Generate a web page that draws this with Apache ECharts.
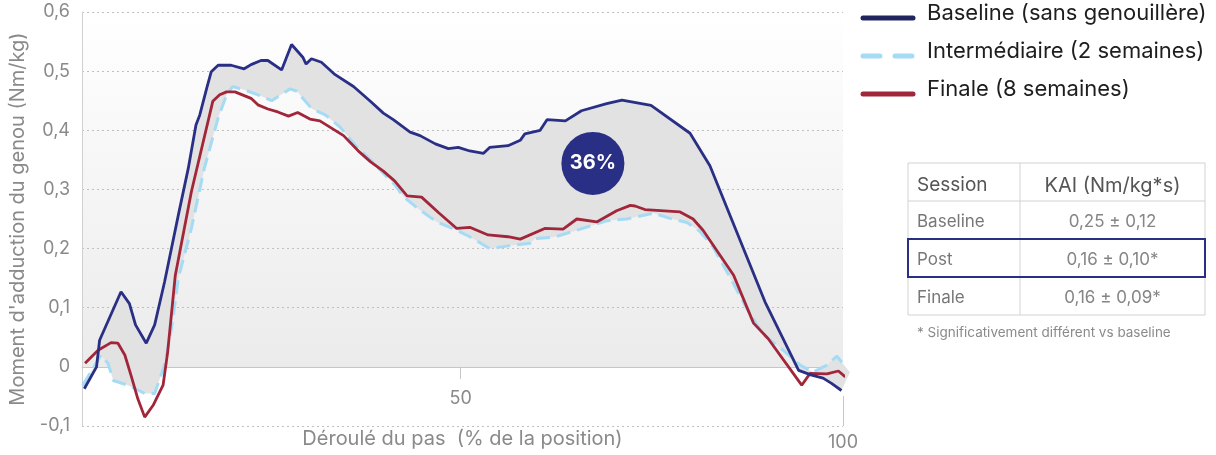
<!DOCTYPE html>
<html>
<head>
<meta charset="utf-8">
<script src="https://cdn.jsdelivr.net/npm/echarts@6/dist/echarts.min.js"></script>
<style>
  html, body { margin: 0; padding: 0; background: #fff; }
  #chart { width: 1216px; height: 455px; }
</style>
</head>
<body>
<div id="chart"></div>
<script>
// values: [% of stance, knee adduction moment Nm/kg]
const baseline = [
  [0.8, -0.037], [2.4, 0.000], [2.8, 0.045], [5.6, 0.127], [6.7, 0.107], [7.5, 0.071],
  [8.9, 0.040], [10.0, 0.071], [11.3, 0.144], [13.1, 0.257], [14.4, 0.336], [15.4, 0.409],
  [15.9, 0.426], [16.8, 0.471], [17.4, 0.499], [18.3, 0.510], [20.0, 0.510], [21.7, 0.504],
  [22.6, 0.511], [23.9, 0.518], [24.8, 0.518], [26.6, 0.502], [27.9, 0.545], [29.4, 0.523],
  [29.8, 0.512], [30.5, 0.521], [31.8, 0.515], [33.6, 0.494], [36.0, 0.474], [38.2, 0.449],
  [39.9, 0.429], [41.2, 0.418], [43.4, 0.397], [44.7, 0.391], [46.7, 0.377], [48.4, 0.369],
  [49.7, 0.371], [51.2, 0.365], [53.0, 0.361], [53.8, 0.371], [56.2, 0.374], [57.8, 0.383],
  [58.4, 0.394], [60.4, 0.400], [61.3, 0.418], [63.7, 0.416], [65.8, 0.433], [69.1, 0.445],
  [71.1, 0.451], [74.9, 0.442], [80.0, 0.395], [82.6, 0.340], [89.8, 0.110], [94.2, -0.006],
  [95.9, -0.014], [97.4, -0.019], [98.5, -0.028], [99.8, -0.040]
];
const intermediate = [
  [0.6, -0.031], [3.0, 0.020], [3.9, 0.006], [4.6, -0.023], [6.5, -0.031], [8.7, -0.045],
  [10.0, -0.045], [11.3, 0.003], [12.2, 0.065], [13.1, 0.150], [14.8, 0.234], [16.5, 0.336],
  [18.3, 0.421], [19.4, 0.460], [20.2, 0.474], [21.8, 0.468], [23.5, 0.460], [25.3, 0.450],
  [27.7, 0.470], [28.6, 0.466], [30.5, 0.437], [32.3, 0.426], [34.2, 0.406], [36.2, 0.375],
  [38.2, 0.350], [39.7, 0.330], [41.4, 0.308], [42.5, 0.288], [44.7, 0.265], [46.9, 0.245],
  [49.5, 0.231], [51.2, 0.220], [53.8, 0.200], [56.5, 0.205], [59.1, 0.209], [59.7, 0.217],
  [62.1, 0.219], [64.7, 0.229], [67.4, 0.240], [69.1, 0.247], [71.7, 0.250], [75.2, 0.260],
  [77.4, 0.251], [79.6, 0.244], [81.3, 0.229], [83.0, 0.203], [85.2, 0.152], [87.4, 0.099],
  [89.6, 0.054], [92.2, 0.028], [94.4, 0.003], [96.1, -0.009], [97.9, 0.003], [99.2, 0.018],
  [100.9, -0.009]
];
const finale = [
  [0.9, 0.006], [2.6, 0.028], [4.3, 0.041], [5.2, 0.040], [6.1, 0.020], [6.9, -0.014],
  [7.8, -0.054], [8.7, -0.085], [9.8, -0.065], [11.1, -0.031], [11.7, 0.025], [12.7, 0.155],
  [14.8, 0.296], [17.6, 0.449], [18.5, 0.460], [19.4, 0.465], [20.5, 0.465], [22.6, 0.454],
  [23.5, 0.443], [24.8, 0.436], [26.1, 0.431], [27.5, 0.424], [28.7, 0.430], [30.3, 0.419],
  [31.6, 0.416], [34.7, 0.391], [36.8, 0.363], [38.2, 0.347], [39.9, 0.331], [41.4, 0.314],
  [43.0, 0.289], [44.9, 0.287], [47.1, 0.261], [49.5, 0.234], [51.2, 0.236], [53.6, 0.223],
  [56.2, 0.220], [57.8, 0.216], [61.0, 0.234], [63.4, 0.233], [65.2, 0.250], [67.8, 0.245],
  [70.4, 0.264], [72.2, 0.273], [72.8, 0.272], [74.1, 0.266], [78.7, 0.262], [80.4, 0.250],
  [81.7, 0.231], [85.7, 0.155], [88.3, 0.074], [90.2, 0.048], [94.6, -0.031], [95.7, -0.011],
  [97.9, -0.012], [99.4, -0.007], [100.3, -0.017]
];
const seriesNames = ['Baseline (sans genouillère)', 'Intermédiaire (2 semaines)', 'Finale (8 semaines)'];
const reductionLabel = [[67.3, 0.344, '36%']];

const xTickLabels = [50, 100];
const tableHeader = ['Session', 'KAI (Nm/kg*s)'];
const tableSessions = ['Baseline', 'Post', 'Finale'];
const tableKai = ['0,25 ± 0,12', '0,16 ± 0,10*', '0,16 ± 0,09*'];
const highlightRow = 1;
const footnote = '* Significativement différent vs baseline';

const FONT = 'Inter';
const NAVY = '#2a2f86';
const NAVY_DARK = '#20245f';
const SKY = '#a5dbf5';
const RED = '#a2263a';
const GREY_TEXT = '#8a8a8a';
const AXIS_GREY = '#c6c6c6';
const X_MIN = 0.5, X_MAX = 100;
const Y_MIN = -0.1, Y_MAX = 0.6;

// gradient only above the zero line
const zeroStop = Y_MAX / (Y_MAX - Y_MIN);
const plotBg = new echarts.graphic.LinearGradient(0, 0, 0, 1, [
  { offset: 0, color: '#ffffff' },
  { offset: zeroStop, color: '#ebebeb' },
  { offset: zeroStop, color: '#ffffff' },
  { offset: 1, color: '#ffffff' }
]);

const bandPoints = baseline.concat(intermediate.slice().reverse());

function buildTable() {
  const left = 908, top = 163, right = 1205, split = 1020, rowH = 38;
  const els = [];
  const rows = tableSessions.length + 1;
  els.push({ type: 'rect', shape: { x: left, y: top, width: right - left, height: rowH * rows },
    style: { fill: 'none', stroke: '#d2d2d2', lineWidth: 1 } });
  for (let i = 1; i < rows; i++) {
    els.push({ type: 'line', shape: { x1: left, y1: top + rowH * i, x2: right, y2: top + rowH * i },
      style: { stroke: '#d2d2d2', lineWidth: 1 } });
  }
  els.push({ type: 'line', shape: { x1: split, y1: top, x2: split, y2: top + rowH * rows },
    style: { stroke: '#d2d2d2', lineWidth: 1 } });
  const hy = top + rowH / 2 + 3.5;
  els.push({ type: 'text', x: left + 9, y: hy,
    style: { text: tableHeader[0], font: '19px ' + FONT, fill: '#555', verticalAlign: 'middle' } });
  els.push({ type: 'text', x: (split + right) / 2, y: hy,
    style: { text: tableHeader[1], font: '20px ' + FONT, fill: '#555', align: 'center', verticalAlign: 'middle' } });
  tableSessions.forEach((s, i) => {
    const cy = top + rowH * (i + 1) + rowH / 2 + 2;
    els.push({ type: 'text', x: left + 9, y: cy,
      style: { text: s, font: '17px ' + FONT, fill: '#777', verticalAlign: 'middle' } });
    els.push({ type: 'text', x: (split + right) / 2, y: cy,
      style: { text: tableKai[i], font: '17px ' + FONT, fill: '#858585', align: 'center', verticalAlign: 'middle' } });
  });
  els.push({ type: 'rect', z: 10, shape: { x: left, y: top + rowH * (highlightRow + 1), width: right - left, height: rowH },
    style: { fill: 'none', stroke: NAVY, lineWidth: 2 } });
  els.push({ type: 'text', x: 917, y: 333,
    style: { text: footnote, font: '13.5px ' + FONT, fill: '#8a8a8a', verticalAlign: 'middle' } });
  return els;
}

const chart = echarts.init(document.getElementById('chart'), null, { renderer: 'canvas' });

const option = {
  animation: false,
  textStyle: { fontFamily: FONT },
  grid: {
    left: 82, right: 373, top: 12, bottom: 29, outerBoundsMode: 'none',
    show: true, borderWidth: 0, backgroundColor: plotBg
  },
  legend: {
    orient: 'vertical', left: 860.5, top: 2, padding: 0,
    itemWidth: 50, itemHeight: 14, itemGap: 10.5,
    itemStyle: { opacity: 0 },
    // a thin empty second line lifts the name above the sample line
    formatter: name => '{t|' + name + '}\n{s| }',
    textStyle: {
      color: '#1e1e1e', fontSize: 22, fontFamily: FONT,
      rich: {
        t: { color: '#1e1e1e', fontSize: 22, fontFamily: FONT, padding: [0, 0, 0, 9] },
        s: { fontSize: 1, lineHeight: 10 }
      }
    },
    lineStyle: { width: 5, cap: 'round' },
    data: [
      { name: seriesNames[0], lineStyle: { color: NAVY_DARK, width: 5, cap: 'round' } },
      { name: seriesNames[1], lineStyle: { type: [17, 15], width: 5, cap: 'round' } },
      { name: seriesNames[2] }
    ]
  },
  xAxis: [
    {
      // zero line with the downward half of the 50 tick
      type: 'value', min: X_MIN, max: X_MAX,
      axisLine: { onZero: true, lineStyle: { color: AXIS_GREY, width: 1 } },
      axisTick: { customValues: [xTickLabels[0]], length: 12, lineStyle: { color: AXIS_GREY } },
      axisLabel: { show: false },
      splitLine: { show: false }
    },
    {
      type: 'value', min: X_MIN, max: X_MAX, position: 'bottom',
      axisLine: { onZero: false, show: false },
      axisTick: { customValues: [xTickLabels[1]], inside: true, length: 30, lineStyle: { color: AXIS_GREY } },
      axisLabel: { customValues: [xTickLabels[1]], margin: 8, color: GREY_TEXT, fontSize: 18 },
      splitLine: { show: false },
      name: 'Déroulé du pas  (% de la position)', nameLocation: 'middle', nameGap: 3,
      nameMoveOverlap: false,
      nameTextStyle: { color: GREY_TEXT, fontSize: 20 }
    },
    {
      // upward half of the 50 tick
      type: 'value', min: X_MIN, max: X_MAX,
      axisLine: { onZero: true, onZeroAxisIndex: 1, show: false },
      axisTick: { customValues: [xTickLabels[0]], inside: true, length: 12, lineStyle: { color: AXIS_GREY } },
      axisLabel: { show: false },
      splitLine: { show: false }
    },
    {
      // "50" label sits just under the zero line
      type: 'value', min: X_MIN, max: X_MAX, position: 'bottom',
      axisLine: { onZero: false, show: false },
      axisTick: { show: false },
      axisLabel: { customValues: [xTickLabels[0]], inside: true, margin: 18, color: GREY_TEXT, fontSize: 18 },
      splitLine: { show: false }
    }
  ],
  yAxis: [
    {
      type: 'value', min: Y_MIN, max: Y_MAX, interval: 0.1,
      axisLine: { show: true, onZero: false, lineStyle: { color: '#d0d0d0' } },
      axisTick: { show: false },
      axisLabel: {
        margin: 12, color: GREY_TEXT, fontSize: 18,
        formatter: v => (Math.round(v * 10) / 10).toString().replace('.', ',')
      },
      splitLine: { lineStyle: { type: [2, 3], color: '#c0c0c0' } },
      name: "Moment d'adduction du genou (Nm/kg)", nameLocation: 'middle', nameGap: 54,
      nameMoveOverlap: false,
      nameTextStyle: { color: GREY_TEXT, fontSize: 20 }
    },
    { type: 'value', min: Y_MIN, max: Y_MAX, show: false }
  ],
  series: [
    {
      type: 'custom', name: 'band', silent: true, clip: false,
      data: [[X_MIN, 0]],
      renderItem: (params, api) => ({
        type: 'polygon',
        shape: { points: bandPoints.map(p => api.coord(p)) },
        style: { fill: '#e2e2e2' }
      })
    },
    {
      type: 'line', name: seriesNames[1], data: intermediate, symbol: 'none', clip: false,
      color: SKY, lineStyle: { color: SKY, width: 3, type: [14, 7] }
    },
    {
      type: 'line', name: seriesNames[2], data: finale, symbol: 'none', clip: false,
      color: RED, lineStyle: { color: RED, width: 2.8 }
    },
    {
      type: 'line', name: seriesNames[0], data: baseline, symbol: 'none', clip: false,
      color: NAVY, lineStyle: { color: NAVY, width: 2.8 }
    },
    {
      type: 'scatter', name: 'reduction', data: reductionLabel, symbolSize: 63, z: 5,
      itemStyle: { color: NAVY, opacity: 1 },
      label: {
        show: true, position: 'inside', formatter: p => p.value[2],
        color: '#fff', fontSize: 20, fontWeight: 'bold', fontFamily: FONT
      }
    }
  ],
  graphic: buildTable()
};

chart.setOption(option);
</script>
</body>
</html>
